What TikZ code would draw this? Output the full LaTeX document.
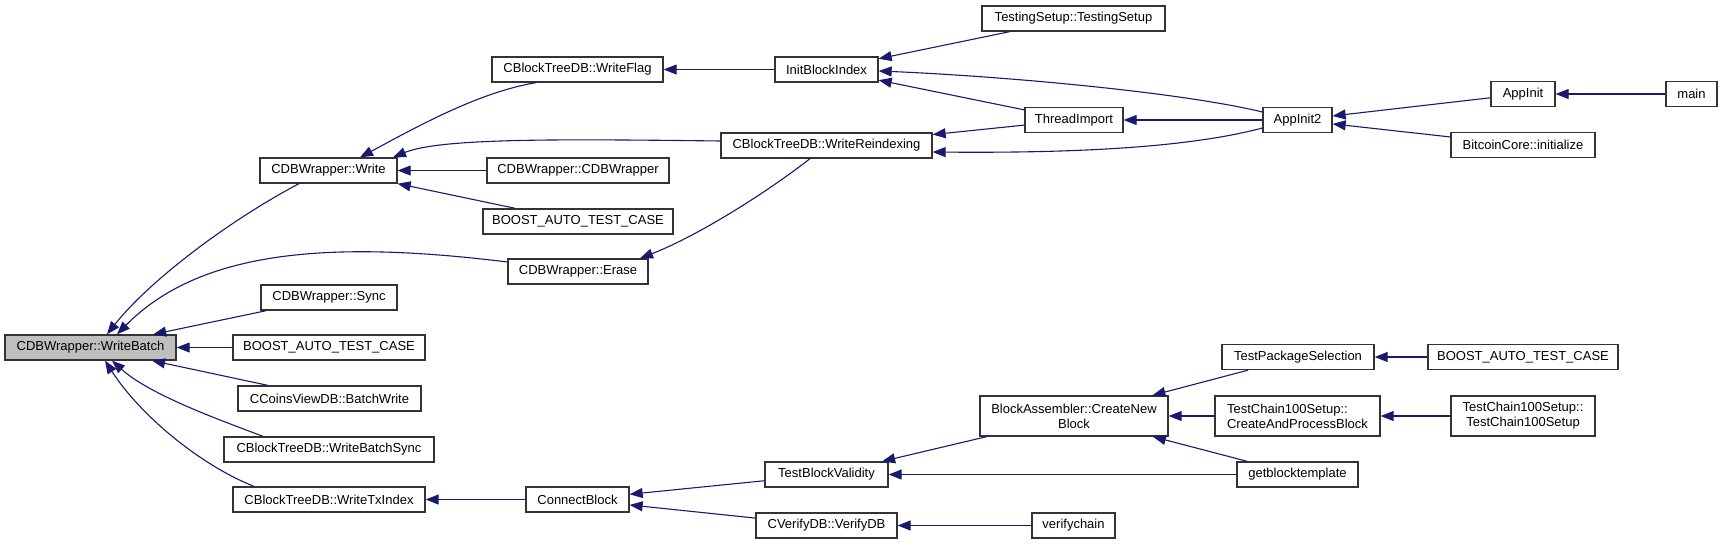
\documentclass[tikz,border=0pt]{standalone}
\usepackage{fontspec}
\setmainfont{Liberation Sans}
\usetikzlibrary{arrows.meta}
\definecolor{edgec}{HTML}{191970}
\definecolor{hl}{HTML}{BFBFBF}
\definecolor{boxc}{HTML}{333333}
\tikzset{
  fn/.style={draw=boxc, line width=1.3pt, fill=white, rectangle, minimum height=25pt,
    inner sep=0pt, font=\fontsize{13}{15}\selectfont, align=center},
  fntwo/.style={fn, minimum height=40pt},
  call/.style={draw=edgec, line width=1.1pt, {Triangle[length=13pt,width=10pt]}-},
}
\begin{document}
\begin{tikzpicture}[x=1pt,y=-1pt]
\useasboundingbox (0,0) rectangle (1723,544);
\fill[white] (0,0) rectangle (1723,544);

% column 1
\node[fn, fill=hl, minimum width=171pt] (wb) at (90.5,347.5) {CDBWrapper::WriteBatch};
% column 2
\node[fn, minimum width=137pt] (write) at (328.5,170.5) {CDBWrapper::Write};
\node[fn, minimum width=136pt] (sync) at (329,297.5) {CDBWrapper::Sync};
\node[fn, minimum width=192pt] (boosttwo) at (329,347.5) {BOOST\_AUTO\_TEST\_CASE};
\node[fn, minimum width=183pt] (bw) at (329.5,398.5) {CCoinsViewDB::BatchWrite};
\node[fn, minimum width=210pt] (wbs) at (329,449.5) {CBlockTreeDB::WriteBatchSync};
\node[fn, minimum width=192pt] (wti) at (329,499.5) {CBlockTreeDB::WriteTxIndex};
% column 3
\node[fn, minimum width=171pt] (wflag) at (577.5,69.5) {CBlockTreeDB::WriteFlag};
\node[fn, minimum width=182pt] (cdbw) at (578,170.5) {CDBWrapper::CDBWrapper};
\node[fn, minimum width=190pt] (boostone) at (578,221.5) {BOOST\_AUTO\_TEST\_CASE};
\node[fn, minimum width=140pt] (erase) at (578,271.5) {CDBWrapper::Erase};
\node[fn, minimum width=103pt] (cb) at (577.5,499.5) {ConnectBlock};
% column 4
\node[fn, minimum width=103pt] (ibi) at (826.5,69.5) {InitBlockIndex};
\node[fn, minimum width=211pt] (wr) at (826.5,145.5) {CBlockTreeDB::WriteReindexing};
\node[fn, minimum width=123pt] (tbv) at (826.5,474.5) {TestBlockValidity};
\node[fn, minimum width=141pt] (vdb) at (826.5,525.5) {CVerifyDB::VerifyDB};
% column 5
\node[fn, minimum width=183pt] (ts) at (1073.5,18.5) {TestingSetup::TestingSetup};
\node[fn, minimum width=98pt] (ti) at (1074,120) {ThreadImport};
\node[fntwo, minimum width=188pt] (cnb) at (1074,416) {BlockAssembler::CreateNew\\Block};
\node[fn, minimum width=83pt] (vc) at (1073.5,525.5) {verifychain};
% column 6
\node[fn, minimum width=69pt] (aitwo) at (1297.5,120) {AppInit2};
\node[fn, minimum width=152pt] (tps) at (1298,357) {TestPackageSelection};
\node[fntwo, minimum width=165pt, align=left] (capb) at (1297.5,416) {TestChain100Setup::\\CreateAndProcessBlock};
\node[fn, minimum width=121pt] (gbt) at (1297.5,474.5) {getblocktemplate};
% column 7
\node[fn, minimum width=64pt] (ai) at (1523,94) {AppInit};
\node[fn, minimum width=144pt] (bci) at (1523,145) {BitcoinCore::initialize};
\node[fn, minimum width=190pt] (boostthree) at (1523,357) {BOOST\_AUTO\_TEST\_CASE};
\node[fntwo, minimum width=144pt] (tc) at (1523,416) {TestChain100Setup::\\TestChain100Setup};
% column 8
\node[fn, minimum width=51pt] (main) at (1691.5,94) {main};

% edges into WriteBatch
\draw[call] ([xshift=16.5pt]wb.north) .. controls (150,280) and (230,220) .. ([xshift=-29.5pt]write.south);
\draw[call] ([xshift=26.5pt]wb.north) .. controls (200,250) and (330,240) .. ([yshift=9.5pt]erase.west);
\draw[call] (wb) -- (sync);
\draw[call] (wb) -- (boosttwo);
\draw[call] (wb) -- (bw);
\draw[call] ([xshift=21.5pt]wb.south) .. controls (150,395) and (220,420) .. ([xshift=-66pt]wbs.north);
\draw[call] ([xshift=14.5pt]wb.south) .. controls (140,415) and (200,465) .. ([xshift=-75pt]wti.north);
% edges into Write
\draw[call] ([xshift=31.5pt]write.north) .. controls (420,125) and (480,92) .. ([xshift=-41.5pt]wflag.south);
\draw[call] ([xshift=64.5pt]write.north) .. controls (440,138) and (560,139) .. ([yshift=4.5pt]wr.west);
\draw[call] (write) -- (cdbw);
\draw[call] (write.south east) -- (boostone);
% Erase
\draw[call] ([xshift=62pt]erase.north) .. controls (700,235) and (770,190) .. ([xshift=-16.5pt]wr.south);
% WriteFlag / InitBlockIndex / WriteReindexing
\draw[call] (wflag) -- (ibi);
\draw[call] (ibi) -- (ts);
\draw[call] ([yshift=-1.5pt]ibi.east) .. controls (1000,76) and (1180,92) .. ([yshift=8pt]aitwo.west);
\draw[call] (ibi) -- (ti);
\draw[call] (wr) -- (ti);
\draw[call] ([yshift=-6.5pt]wr.east) .. controls (1050,153) and (1180,150) .. ([yshift=-8pt]aitwo.west);
\draw[call] (ti) -- (aitwo);
\draw[call] (aitwo) -- (ai);
\draw[call] (aitwo) -- (bci);
\draw[call] (ai) -- (main);
% lower branch
\draw[call] (wti) -- (cb);
\draw[call] (cb) -- (tbv);
\draw[call] (cb) -- (vdb);
\draw[call] (tbv) -- (cnb);
\draw[call] (tbv) -- (gbt);
\draw[call] (cnb) -- (tps);
\draw[call] (cnb) -- (capb);
\draw[call] (cnb) -- (gbt);
\draw[call] (tps) -- (boostthree);
\draw[call] (capb) -- (tc);
\draw[call] (vdb) -- (vc);
\end{tikzpicture}
\end{document}
